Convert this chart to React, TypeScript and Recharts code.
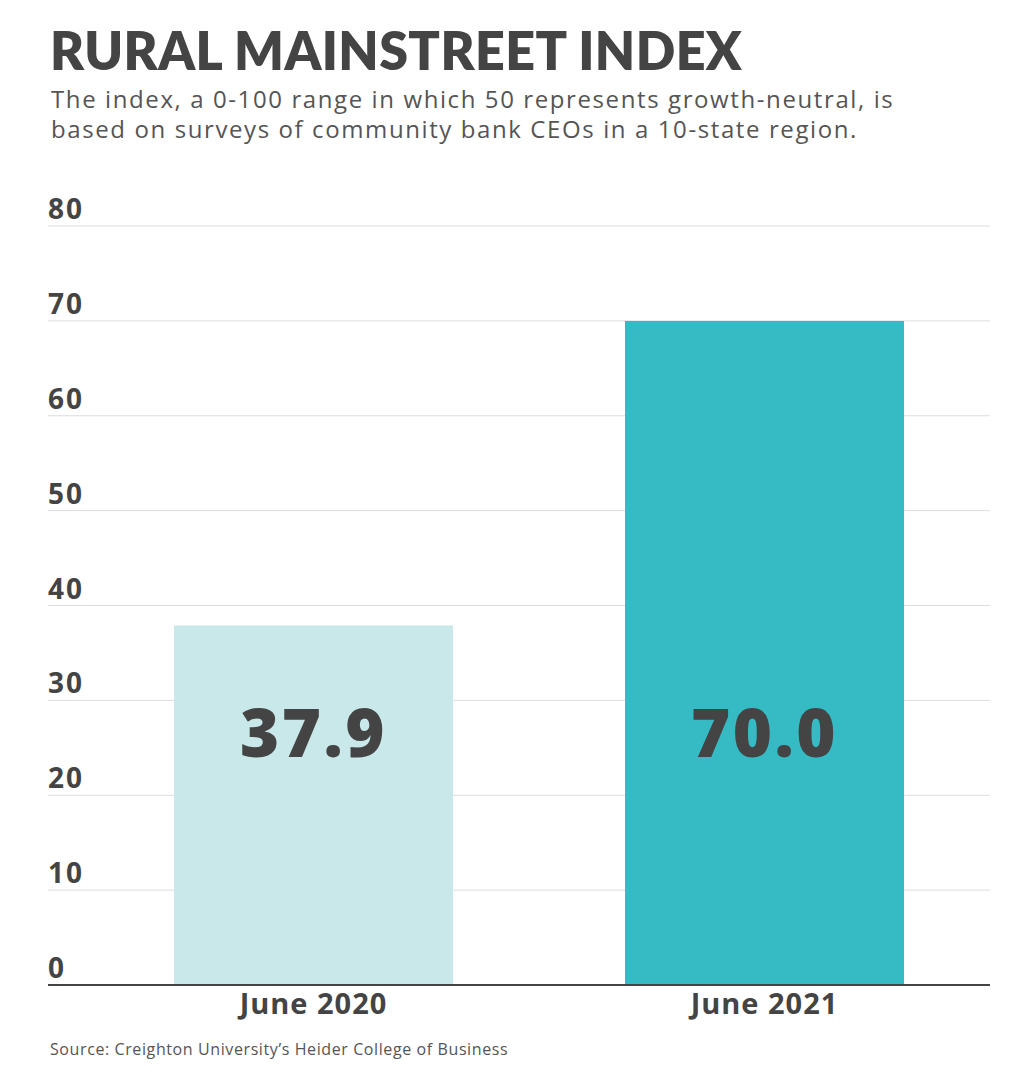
import { Bar, BarChart, CartesianGrid, Cell, LabelList, XAxis, YAxis } from "recharts";

const periods = ["June 2020", "June 2021"];
const indexValues = [37.9, 70.0];
const barColors = ["#c8e8ea", "#36bac4"];
const yTicks = [0, 10, 20, 30, 40, 50, 60, 70, 80];

const TEXT = "#444444";
const HEAD = "Lato, 'Open Sans', sans-serif";
const BODY = "'Open Sans', 'Noto Sans', sans-serif";

const data = periods.map((p, i) => ({ period: p, value: indexValues[i] }));

function YTick(props: any) {
  const { y, payload } = props;
  return (
    <text
      x={48}
      y={y - 7}
      textAnchor="start"
      fill={TEXT}
      fontFamily={BODY}
      fontWeight={700}
      fontSize={28}
      letterSpacing={2}
    >
      {payload.value}
    </text>
  );
}

function XTick(props: any) {
  const { x, y, payload } = props;
  return (
    <text
      x={x}
      y={y + 21}
      textAnchor="middle"
      fill={TEXT}
      fontFamily={BODY}
      fontWeight={700}
      fontSize={29}
      letterSpacing={1}
    >
      {payload.value}
    </text>
  );
}

function ValueLabel(props: any) {
  const { x, y, width, height, value } = props;
  const bottom = y + height;
  return (
    <text
      x={x + width / 2}
      y={bottom - 228}
      textAnchor="middle"
      fill={TEXT}
      fontFamily={BODY}
      fontWeight={800}
      fontSize={67}
      letterSpacing={2.5}
    >
      {Number(value).toFixed(1)}
    </text>
  );
}

export default function App() {
  return (
    <div style={{ position: "absolute", left: 0, top: 0, width: 1023, height: 1073, background: "#fff" }}>
      <div
        style={{
          position: "absolute",
          left: 50,
          top: 22,
          fontFamily: HEAD,
          fontSize: 52,
          fontWeight: 800,
          color: TEXT,
          lineHeight: "56px",
          letterSpacing: 0.4,
          whiteSpace: "nowrap",
        }}
      >
        RURAL MAINSTREET INDEX
      </div>
      <div
        style={{
          position: "absolute",
          left: 51,
          top: 84,
          fontFamily: BODY,
          fontSize: 24,
          color: "#555",
          lineHeight: "30px",
          letterSpacing: 1.6,
          whiteSpace: "nowrap",
        }}
      >
        The index, a 0-100 range in which 50 represents growth-neutral, is
        <br />
        based on surveys of community bank CEOs in a 10-state region.
      </div>
      <div style={{ position: "absolute", left: 0, top: 0 }}>
        <BarChart width={1023} height={1073} data={data} margin={{ top: 226, right: 33, bottom: 58, left: 47 }}>
          <CartesianGrid vertical={false} stroke="#dddddd" strokeWidth={1} />
          <YAxis
            type="number"
            domain={[0, 80]}
            ticks={yTicks}
            width={1}
            axisLine={false}
            tickLine={false}
            tick={<YTick />}
            interval={0}
          />
          <XAxis
            dataKey="period"
            height={30}
            padding={{ left: 40, right: 0 }}
            axisLine={{ stroke: TEXT, strokeWidth: 2 }}
            tickLine={false}
            tick={<XTick />}
            interval={0}
          />
          <Bar dataKey="value" barSize={279} isAnimationActive={false}>
            {data.map((d, i) => (
              <Cell key={d.period} fill={barColors[i]} />
            ))}
            <LabelList dataKey="value" content={<ValueLabel />} />
          </Bar>
        </BarChart>
      </div>
      <div
        style={{
          position: "absolute",
          left: 50,
          top: 1038,
          fontFamily: BODY,
          fontSize: 16,
          color: "#555",
          letterSpacing: 0.6,
          whiteSpace: "nowrap",
        }}
      >
        Source: Creighton University’s Heider College of Business
      </div>
    </div>
  );
}
